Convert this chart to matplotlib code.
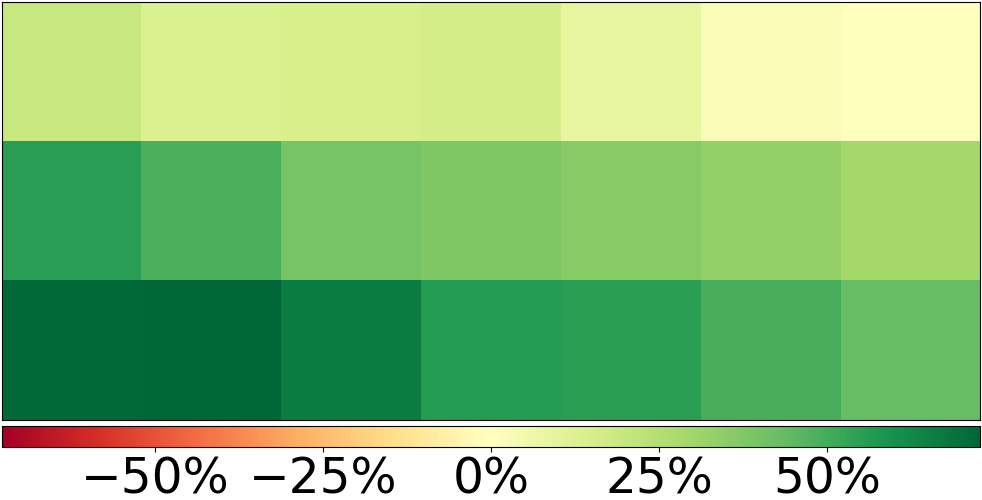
import numpy as np
import matplotlib
matplotlib.use("Agg")
from matplotlib import pyplot as plt
from matplotlib.ticker import PercentFormatter

# 3 行 x 7 列 的数值 (小数形式, 0.25 = 25%)
row_top = [0.194, 0.134, 0.146, 0.155, 0.087, 0.020, 0.003]
row_mid = [0.552, 0.485, 0.396, 0.377, 0.360, 0.332, 0.291]
row_bot = [0.720, 0.728, 0.664, 0.560, 0.550, 0.490, 0.437]
cbar_ticks = [-0.5, -0.25, 0.0, 0.25, 0.5]

data = np.array([row_top, row_mid, row_bot])
vmax = np.abs(data).max()   # 对称色标

fig = plt.figure(figsize=(9.82, 5.0), dpi=100)
ax = fig.add_axes([2 / 982, 80 / 500, 978 / 982, 418 / 500])
cax = fig.add_axes([2 / 982, 53 / 500, 978 / 982, 21 / 500])

im = ax.imshow(data, cmap="RdYlGn", vmin=-vmax, vmax=vmax, aspect="auto",
               interpolation="nearest")
ax.set_xticks([])
ax.set_yticks([])

cb = fig.colorbar(im, cax=cax, orientation="horizontal", ticks=cbar_ticks)
cb.ax.xaxis.set_major_formatter(PercentFormatter(xmax=1, decimals=0))
cb.ax.tick_params(labelsize=35, pad=2.5)

fig.savefig("out.png", dpi=100)
